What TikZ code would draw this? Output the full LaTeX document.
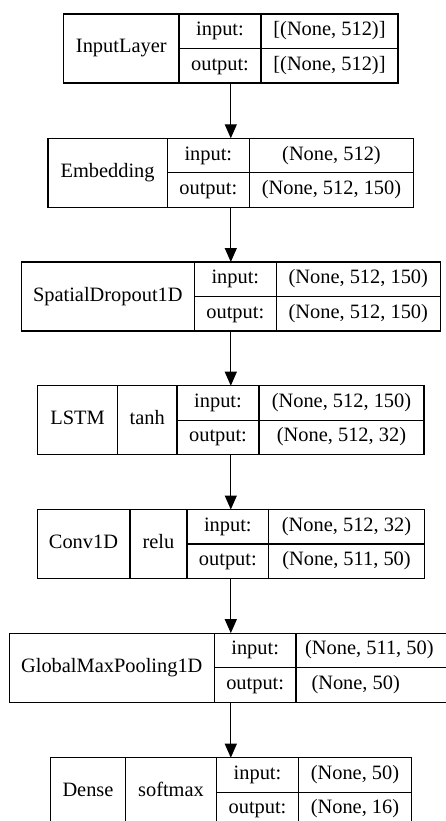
\documentclass[tikz,border=0pt]{standalone}
\usepackage{fontspec}
\setmainfont{Liberation Serif}
\usetikzlibrary{arrows.meta}
\tikzset{
  layerbox/.style={draw, line width=1.3pt, inner sep=0pt, outer sep=0pt, minimum height=69pt},
  cell/.style={inner sep=0pt, text height=13pt, text depth=4pt, font=\fontsize{20.4}{24}\selectfont},
  rule/.style={line width=1.3pt},
  flow/.style={line width=1.3pt, -{Triangle[length=14pt,width=12pt]}}
}
\begin{document}
\begin{tikzpicture}[x=1pt,y=-1pt]
\useasboundingbox (0,0) rectangle (445,821);
% Box 1 InputLayer
\node[layerbox, minimum width=334.5pt] (b1) at (230.8,48.5) {};
\draw[rule] (179,14) -- (179,83) (261,14) -- (261,83) (179,48.5) -- (b1.east);
\node[cell] (b1n) at (121.3,48.5) {InputLayer};
\node[cell] (b1i) at (220,31.25) {input:};
\node[cell] (b1o) at (220,65.75) {output:};
\node[cell] (b1vi) at (329.5,31.25) {[(None, 512)]};
\node[cell] (b1vo) at (329.5,65.75) {[(None, 512)]};
% Box 2 Embedding
\node[layerbox, minimum width=365.7pt] (b2) at (230.8,172.8) {};
\draw[rule] (167.3,138.3) -- (167.3,207.3) (249.3,138.3) -- (249.3,207.3) (167.3,172.8) -- (b2.east);
\node[cell] (b2n) at (107.6,172.8) {Embedding};
\node[cell] (b2i) at (208.3,155.55) {input:};
\node[cell] (b2o) at (208.3,190.05) {output:};
\node[cell] (b2vi) at (331.5,155.55) {(None, 512)};
\node[cell] (b2vo) at (331.5,190.05) {(None, 512, 150)};
% Box 3 SpatialDropout1D
\node[layerbox, minimum width=419pt] (b3) at (230.8,296.5) {};
\draw[rule] (194.3,262) -- (194.3,331) (276.3,262) -- (276.3,331) (194.3,296.5) -- (b3.east);
\node[cell] (b3n) at (107.8,296.5) {SpatialDropout1D};
\node[cell] (b3i) at (235.3,279.25) {input:};
\node[cell] (b3o) at (235.3,313.75) {output:};
\node[cell] (b3vi) at (358.3,279.25) {(None, 512, 150)};
\node[cell] (b3vo) at (358.3,313.75) {(None, 512, 150)};
% Box 4 LSTM
\node[layerbox, minimum width=386.3pt] (b4) at (230.8,420.2) {};
\draw[rule] (117.3,385.7) -- (117.3,454.7) (177,385.7) -- (177,454.7) (259,385.7) -- (259,454.7) (177,420.2) -- (b4.east);
\node[cell] (b4n) at (77.5,420.2) {LSTM};
\node[cell] (b4a) at (147.15,420.2) {tanh};
\node[cell] (b4i) at (218,402.95) {input:};
\node[cell] (b4o) at (218,437.45) {output:};
\node[cell] (b4vi) at (341.5,402.95) {(None, 512, 150)};
\node[cell] (b4vo) at (341.5,437.45) {(None, 512, 32)};
% Box 5 Conv1D
\node[layerbox, minimum width=387.3pt] (b5) at (230.8,544) {};
\draw[rule] (130,509.5) -- (130,578.5) (187,509.5) -- (187,578.5) (268.7,509.5) -- (268.7,578.5) (187,544) -- (b5.east);
\node[cell] (b5n) at (83.5,544) {Conv1D};
\node[cell] (b5a) at (158.5,544) {relu};
\node[cell] (b5i) at (227.85,526.75) {input:};
\node[cell] (b5o) at (227.85,561.25) {output:};
\node[cell] (b5vi) at (346.5,526.75) {(None, 512, 32)};
\node[cell] (b5vo) at (346.5,561.25) {(None, 511, 50)};
% Box 6 GlobalMaxPooling1D
\node[layerbox, minimum width=443pt] (b6) at (230.8,667.65) {};
\draw[rule] (214.3,633.15) -- (214.3,702.15) (296,633.15) -- (296,702.15) (214.3,667.65) -- (b6.east);
\node[cell] (b6n) at (111.8,667.65) {GlobalMaxPooling1D};
\node[cell] (b6i) at (255.15,650.4) {input:};
\node[cell] (b6o) at (255.15,684.9) {output:};
\node[cell] (b6vi) at (369.4,650.4) {(None, 511, 50)};
\node[cell] (b6vo) at (355.7,684.9) {(None, 50)};
% Box 7 Dense
\node[layerbox, minimum width=361pt] (b7) at (230.8,792.2) {};
\draw[rule] (125.3,757.7) -- (125.3,826.7) (216.7,757.7) -- (216.7,826.7) (298.3,757.7) -- (298.3,826.7) (216.7,792.2) -- (b7.east);
\node[cell] (b7n) at (88,792.2) {Dense};
\node[cell] (b7a) at (171,792.2) {softmax};
\node[cell] (b7i) at (257.5,774.95) {input:};
\node[cell] (b7o) at (257.5,809.45) {output:};
\node[cell] (b7vi) at (355,774.95) {(None, 50)};
\node[cell] (b7vo) at (355,809.45) {(None, 16)};
% connectors
\draw[flow] (b1.south) -- (b2.north);
\draw[flow] (b2.south) -- (b3.north);
\draw[flow] (b3.south) -- (b4.north);
\draw[flow] (b4.south) -- (b5.north);
\draw[flow] (b5.south) -- (b6.north);
\draw[flow] (b6.south) -- (b7.north);
\end{tikzpicture}
\end{document}
